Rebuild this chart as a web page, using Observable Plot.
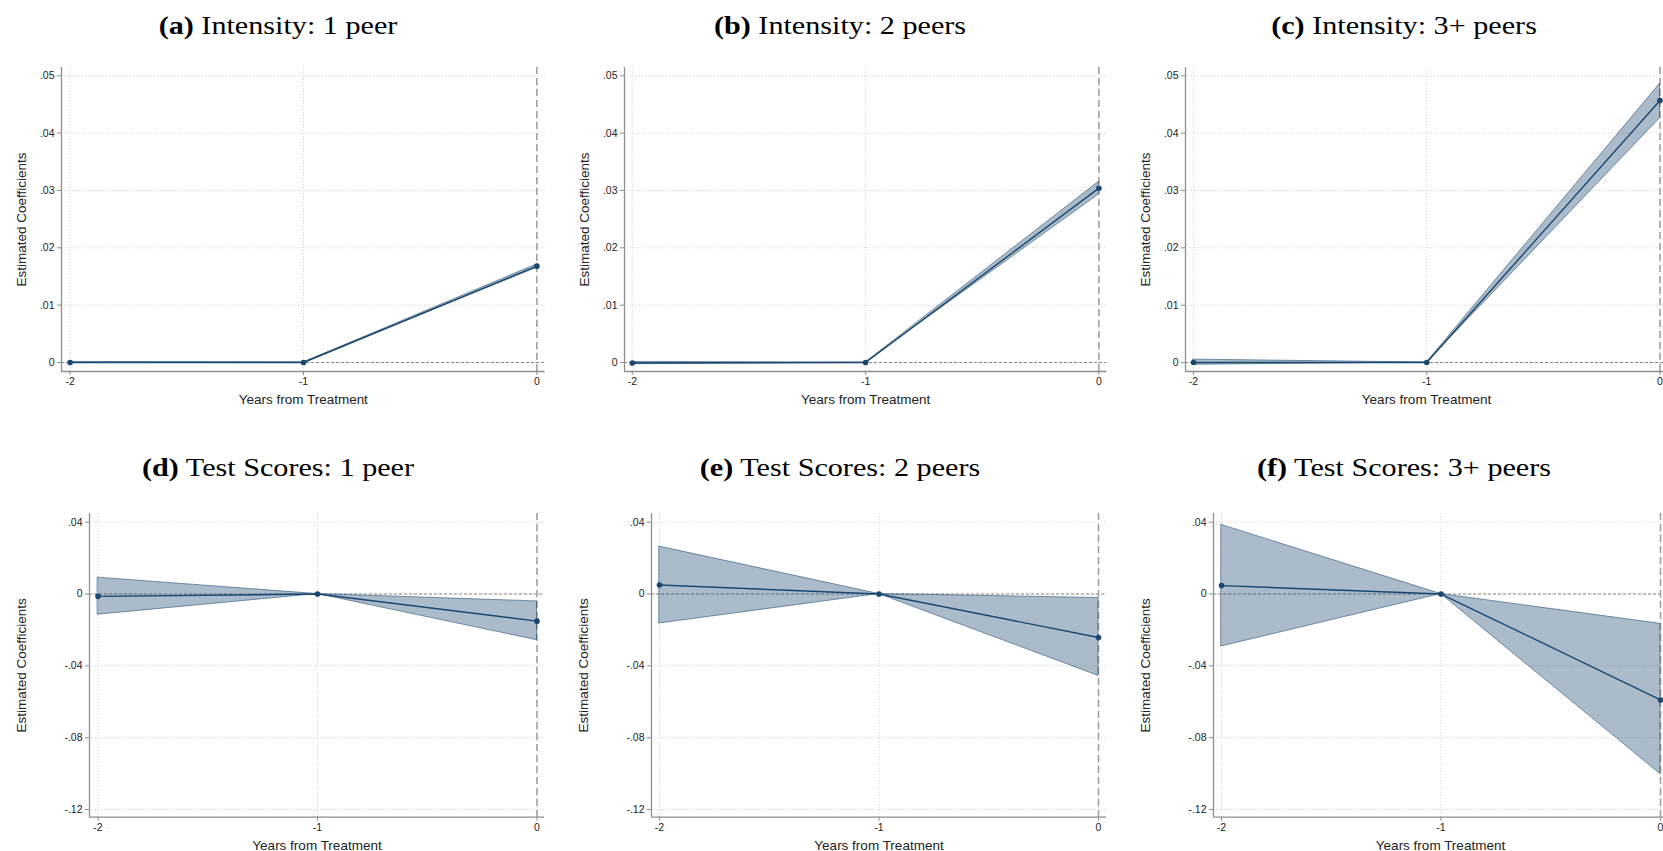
<!DOCTYPE html>
<html>
<head>
<meta charset="utf-8">
<script src="https://cdn.jsdelivr.net/npm/d3@7"></script>
<script src="https://cdn.jsdelivr.net/npm/@observablehq/plot@0.6"></script>
<style>
  html, body { margin: 0; padding: 0; background: #fff; }
  body { width: 1663px; height: 851px; position: relative; overflow: hidden; }
  .title { position: absolute; font-family: "Liberation Serif", "Times New Roman", serif; font-size: 26px; line-height: 26px; transform: translateX(-50%) scaleX(1.16); white-space: nowrap; color: #000; }
  .title b { font-weight: bold; }
  .panel { position: absolute; }
  .panel svg { overflow: visible; max-width: none !important; }
</style>
</head>
<body>
<script>
// ---------------- data ----------------
const years = [-2, -1, 0];
const panelLetters = ["(a)", "(b)", "(c)", "(d)", "(e)", "(f)"];
const panelTitles = ["Intensity: 1 peer", "Intensity: 2 peers", "Intensity: 3+ peers",
                     "Test Scores: 1 peer", "Test Scores: 2 peers", "Test Scores: 3+ peers"];

const intensity1Coef = [0.0000, 0, 0.0168];
const intensity1Lo   = [-0.0001, 0, 0.0165];
const intensity1Hi   = [0.0001, 0, 0.0171];

const intensity2Coef = [-0.0001, 0, 0.0304];
const intensity2Lo   = [-0.0003, 0, 0.0293];
const intensity2Hi   = [0.0001, 0, 0.0315];

const intensity3Coef = [0.0000, 0, 0.0457];
const intensity3Lo   = [-0.0004, 0, 0.0426];
const intensity3Hi   = [0.0005, 0, 0.0486];

const scores1Coef = [-0.0013, 0, -0.0151];
const scores1Lo   = [-0.0115, 0, -0.0257];
const scores1Hi   = [0.0091, 0, -0.0041];

const scores2Coef = [0.0050, 0, -0.0242];
const scores2Lo   = [-0.0164, 0, -0.0456];
const scores2Hi   = [0.0264, 0, -0.0022];

const scores3Coef = [0.0047, 0, -0.0590];
const scores3Lo   = [-0.0292, 0, -0.1003];
const scores3Hi   = [0.0385, 0, -0.0166];

const xTicks = [-2, -1, 0];
const xTickLabels = ["-2", "-1", "0"];
const intensityTicks = [0, 0.01, 0.02, 0.03, 0.04, 0.05];
const intensityTickLabels = ["0", ".01", ".02", ".03", ".04", ".05"];
const scoreTicks = [-0.12, -0.08, -0.04, 0, 0.04];
const scoreTickLabels = ["-.12", "-.08", "-.04", "0", ".04"];

const xTitle = "Years from Treatment";
const yTitle = "Estimated Coefficients";

// ---------------- layout (pixels) ----------------
const rows = [
  { svgTop: 40, svgHeight: 395, frameTop: 67, frameBottom: 371,
    topVal: 0.05, topPx: 75.3, botVal: 0, botPx: 362,
    ticks: intensityTicks, tickLabels: intensityTickLabels, yTitleDx: -40, titleTop: 13 },
  { svgTop: 490, svgHeight: 361, frameTop: 513, frameBottom: 816.7,
    topVal: 0.04, topPx: 521.7, botVal: -0.12, botPx: 809,
    ticks: scoreTicks, tickLabels: scoreTickLabels, yTitleDx: -68, titleTop: 455 }
];
const cols = [
  [ { frameLeft: 61.4, xm2: 70, x0: 536.8, frameRight: 545, titleX: 278 },
    { frameLeft: 623.6, xm2: 631.4, x0: 1098, frameRight: 1106, titleX: 840 },
    { frameLeft: 1185, xm2: 1193, x0: 1659.5, frameRight: 1667, titleX: 1404 } ],
  [ { frameLeft: 89, xm2: 97.5, x0: 536.5, frameRight: 544, titleX: 278 },
    { frameLeft: 651, xm2: 659, x0: 1098, frameRight: 1106, titleX: 840 },
    { frameLeft: 1213, xm2: 1221, x0: 1660, frameRight: 1667, titleX: 1404 } ]
];

const series = [
  [intensity1Coef, intensity1Lo, intensity1Hi],
  [intensity2Coef, intensity2Lo, intensity2Hi],
  [intensity3Coef, intensity3Lo, intensity3Hi],
  [scores1Coef, scores1Lo, scores1Hi],
  [scores2Coef, scores2Lo, scores2Hi],
  [scores3Coef, scores3Lo, scores3Hi]
];

const navy = "#1a476f";
const axisGray = "#8e8e8e";
const gridGray = "#cfcfcf";

for (let i = 0; i < 6; i++) {
  const r = Math.floor(i / 3), c = i % 3;
  const R = rows[r], C = cols[r][c];
  const [coef, lo, hi] = series[i];
  const data = years.map((x, k) => ({ year: x, coef: coef[k], lo: lo[k], hi: hi[k] }));

  const xUnit = (C.x0 - C.xm2) / 2;
  const xDomain = [-2 - (C.xm2 - C.frameLeft) / xUnit, 0 + (C.frameRight - C.x0) / xUnit];
  const yUnit = (R.botPx - R.topPx) / (R.topVal - R.botVal);
  const yDomain = [R.botVal - (R.frameBottom - R.botPx) / yUnit, R.topVal + (R.topPx - R.frameTop) / yUnit];

  const mLeft = 90, mRight = 6;
  const svgLeft = C.frameLeft - mLeft;
  const svgWidth = C.frameRight + mRight - svgLeft;
  const mTop = R.frameTop - R.svgTop;
  const mBottom = R.svgTop + R.svgHeight - R.frameBottom;

  const ticks = R.ticks, tlabels = R.tickLabels;

  const chart = Plot.plot({
    width: svgWidth,
    height: R.svgHeight,
    marginLeft: mLeft, marginRight: mRight, marginTop: mTop, marginBottom: mBottom,
    x: { domain: xDomain, label: null },
    y: { domain: yDomain, label: null },
    style: { fontFamily: "'Liberation Sans', Arial, sans-serif", fontSize: "10.5px", color: "#222", background: "transparent", maxWidth: "none" },
    marks: [
      Plot.gridY(ticks, { stroke: gridGray, strokeOpacity: 1, strokeDasharray: "1,2" }),
      Plot.gridX(xTicks, { stroke: gridGray, strokeOpacity: 1, strokeDasharray: "1,2" }),
      Plot.ruleY([0], { stroke: "#888", strokeWidth: 1, strokeDasharray: "3,2" }),
      Plot.ruleX([0], { stroke: "#9c9c9c", strokeWidth: 1.5, strokeDasharray: "7,4" }),
      Plot.areaY(data, { x: "year", y1: "lo", y2: "hi", fill: navy, fillOpacity: 0.37, stroke: navy, strokeOpacity: 0.55, strokeWidth: 1 }),
      Plot.line(data, { x: "year", y: "coef", stroke: navy, strokeWidth: 1.4 }),
      Plot.dot(data, { x: "year", y: "coef", r: 2.8, fill: navy, stroke: null }),
      Plot.axisY(ticks, { anchor: "left", tickSize: 4, tickPadding: 3, stroke: axisGray, label: null,
                          tickFormat: d => tlabels[ticks.indexOf(d)] }),
      Plot.axisX(xTicks, { anchor: "bottom", tickSize: 4, tickPadding: 2, stroke: axisGray, label: null,
                          tickFormat: d => xTickLabels[xTicks.indexOf(d)] }),
      Plot.ruleX([xDomain[0]], { stroke: axisGray, strokeWidth: 1.3 }),
      Plot.ruleY([yDomain[0]], { stroke: axisGray, strokeWidth: 1.3 }),
      Plot.text([xTitle], { text: d => d, frameAnchor: "bottom", dy: 28, lineAnchor: "middle",
                            fontSize: 13.5, fill: "#222" }),
      Plot.text([yTitle], { text: d => d, frameAnchor: "left", dx: R.yTitleDx, rotate: -90, lineAnchor: "middle",
                            textAnchor: "middle", fontSize: 13.5, fill: "#222" })
    ]
  });
  chart.style.maxWidth = "none";

  const wrap = document.createElement("div");
  wrap.className = "panel";
  wrap.style.left = svgLeft + "px";
  wrap.style.top = R.svgTop + "px";
  wrap.style.width = svgWidth + "px";
  wrap.style.height = R.svgHeight + "px";
  wrap.appendChild(chart);
  document.body.appendChild(wrap);

  const t = document.createElement("div");
  t.className = "title";
  t.style.left = C.titleX + "px";
  t.style.top = R.titleTop + "px";
  const b = document.createElement("b");
  b.textContent = panelLetters[i];
  t.appendChild(b);
  t.appendChild(document.createTextNode(" " + panelTitles[i]));
  document.body.appendChild(t);
}
</script>
</body>
</html>
